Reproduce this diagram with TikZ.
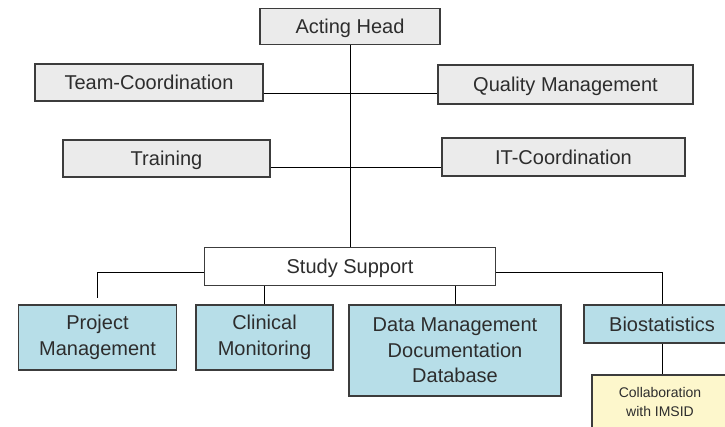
\documentclass[tikz,border=0pt]{standalone}
\usepackage{fontspec}
\setmainfont{Liberation Sans}
\definecolor{boxgray}{RGB}{235,235,235}
\definecolor{boxblue}{RGB}{183,222,232}
\definecolor{boxyellow}{RGB}{253,247,204}
\definecolor{edgedark}{RGB}{60,60,60}
\definecolor{textdark}{RGB}{45,45,45}

\begin{document}
\begin{tikzpicture}[
    x=1pt, y=-1pt,
    unit/.style={
        draw=edgedark,
        line width=1.3pt,
        rectangle,
        align=center,
        inner sep=2pt,
        text=textdark,
        font=\fontsize{20}{25.5}\selectfont
    },
    oneline/.style={text height=14.5pt, text depth=0.5pt},
    staff/.style={unit, oneline, fill=boxgray, minimum height=37pt},
    team/.style={unit, fill=boxblue},
    partner/.style={unit, fill=boxyellow, font=\fontsize{14}{19}\selectfont},
    link/.style={line width=1pt, draw=black}
]
\useasboundingbox (0,0) rectangle (725,426);
\clip (0,0) rectangle (725,426);

% =================== Head and staff units ===================
\node[staff, minimum width=180pt, minimum height=36pt] (head) at (350, 26.5) {Acting Head};
\node[staff, minimum width=228pt] (teamco) at (149, 82.5) {Team-Coordination};
\node[staff, minimum width=255pt, minimum height=39pt] (quality) at (565.5, 84.5) {Quality Management};
\node[staff, minimum width=207pt] (training) at (166.5, 158.5) {Training};
\node[staff, minimum width=243pt, minimum height=38pt] (itco) at (563.5, 157) {IT-Coordination};

% =================== Study support ===================
\node[unit, oneline, fill=white, minimum width=291pt, minimum height=38pt] (support) at (350, 266.5) {Study Support};

% =================== Teams ===================
\node[team, minimum width=158pt, minimum height=65pt] (project) at (97.5, 337.5) {Project\\Management};
\node[team, minimum width=137pt, minimum height=65pt] (clinical) at (264.5, 337.5) {Clinical\\Monitoring};
\node[team, minimum width=212pt, minimum height=91pt] (datamgmt) at (455, 350.5) {Data Management\\Documentation\\Database};
\node[team, oneline, minimum width=156pt, minimum height=38pt] (biostat) at (662, 324) {Biostatistics};
\node[partner, minimum width=136pt, minimum height=54pt] (imsid) at (660, 402) {Collaboration\\with IMSID};

% =================== Connectors ===================
\draw[link] (head.south) -- (support.north);
\draw[link] ([yshift=-10.5pt]teamco.east) -- ([yshift=-10.5pt]teamco.east -| quality.west);
\draw[link] ([yshift=-8.5pt]training.east) -- ([yshift=-8.5pt]training.east -| itco.west);
\draw[link, shorten >=6pt] ([yshift=-5.5pt]support.west) -| (project.north);
\draw[link] (clinical.north) -- (clinical.north |- support.south);
\draw[link] (datamgmt.north) -- (datamgmt.north |- support.south);
\draw[link] ([yshift=-5.5pt]support.east) -| (biostat.north);
\draw[link] (biostat.south) -- (biostat.south |- imsid.north);

\end{tikzpicture}
\end{document}
